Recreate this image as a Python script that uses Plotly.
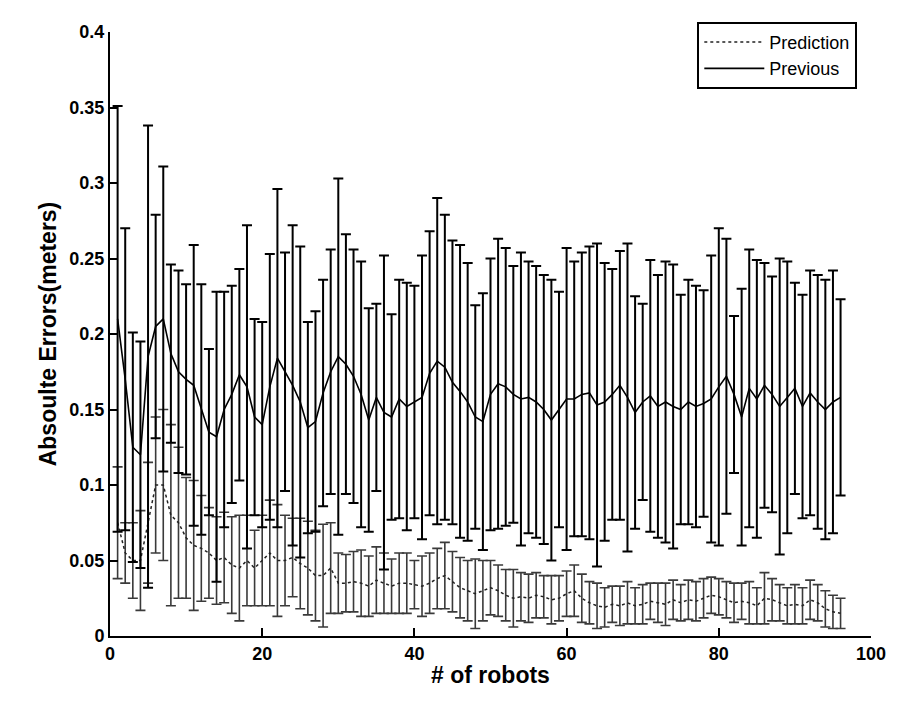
import plotly.graph_objects as go

robots = list(range(1, 97))

prev_mean = [0.21, 0.17, 0.125, 0.12, 0.185, 0.205, 0.21, 0.187, 0.175, 0.17,
             0.166, 0.15, 0.135, 0.132, 0.15, 0.16, 0.173, 0.165, 0.145, 0.14,
             0.165, 0.184, 0.175, 0.166, 0.155, 0.138, 0.142, 0.161, 0.175, 0.185,
             0.18, 0.172, 0.16, 0.143, 0.158, 0.148, 0.145, 0.157, 0.152, 0.155,
             0.158, 0.174, 0.182, 0.178, 0.168, 0.162, 0.155, 0.145, 0.142, 0.16,
             0.167, 0.165, 0.16, 0.157, 0.158, 0.155, 0.15, 0.143, 0.15, 0.157,
             0.157, 0.16, 0.161, 0.153, 0.155, 0.16, 0.166, 0.158, 0.148, 0.155,
             0.159, 0.152, 0.155, 0.152, 0.15, 0.155, 0.152, 0.154, 0.157, 0.165,
             0.172, 0.16, 0.145, 0.164, 0.157, 0.166, 0.16, 0.152, 0.158, 0.164,
             0.152, 0.161, 0.155, 0.15, 0.155, 0.158]

prev_top = [0.351, 0.27, 0.201, 0.195, 0.338, 0.279, 0.311, 0.246, 0.242, 0.233,
            0.259, 0.233, 0.19, 0.228, 0.228, 0.232, 0.243, 0.272, 0.21, 0.208,
            0.253, 0.296, 0.254, 0.272, 0.258, 0.208, 0.215, 0.236, 0.256, 0.303,
            0.266, 0.256, 0.248, 0.217, 0.22, 0.252, 0.213, 0.236, 0.234, 0.232,
            0.252, 0.268, 0.29, 0.279, 0.262, 0.259, 0.247, 0.219, 0.227, 0.25,
            0.263, 0.257, 0.245, 0.254, 0.248, 0.245, 0.239, 0.236, 0.228, 0.257,
            0.248, 0.254, 0.258, 0.26, 0.247, 0.243, 0.255, 0.26, 0.225, 0.22,
            0.249, 0.239, 0.248, 0.246, 0.226, 0.236, 0.232, 0.229, 0.252, 0.27,
            0.263, 0.212, 0.23, 0.256, 0.249, 0.247, 0.238, 0.25, 0.248, 0.234,
            0.226, 0.242, 0.239, 0.236, 0.242, 0.223]

pred_mean = [0.075, 0.055, 0.05, 0.05, 0.075, 0.1, 0.1, 0.08, 0.075, 0.065,
             0.06, 0.058, 0.055, 0.05, 0.052, 0.047, 0.045, 0.05, 0.045, 0.05,
             0.055, 0.05, 0.05, 0.052, 0.048, 0.045, 0.04, 0.04, 0.045, 0.035,
             0.035, 0.036, 0.035, 0.033, 0.037, 0.035, 0.033, 0.035, 0.035, 0.034,
             0.033, 0.035, 0.038, 0.04, 0.036, 0.032, 0.03, 0.028, 0.03, 0.032,
             0.03, 0.027, 0.025, 0.026, 0.025, 0.027, 0.026, 0.024, 0.025, 0.028,
             0.03, 0.025, 0.022, 0.02, 0.019, 0.021, 0.02, 0.022, 0.02, 0.021,
             0.023, 0.022, 0.021, 0.024, 0.022, 0.024, 0.023, 0.025, 0.027, 0.026,
             0.024, 0.022, 0.023, 0.022, 0.02, 0.025, 0.024, 0.022, 0.02, 0.021,
             0.02, 0.024, 0.022, 0.018, 0.016, 0.015]

pred_err = [0.037, 0.02, 0.025, 0.033, 0.04, 0.045, 0.05, 0.06, 0.05, 0.04,
            0.043, 0.035, 0.03, 0.029, 0.03, 0.032, 0.035, 0.03, 0.025, 0.03,
            0.035, 0.037, 0.03, 0.026, 0.03, 0.031, 0.03, 0.034, 0.03, 0.02,
            0.019, 0.02, 0.022, 0.02, 0.022, 0.02, 0.018, 0.02, 0.02, 0.016,
            0.02, 0.02, 0.02, 0.022, 0.02, 0.02, 0.02, 0.023, 0.02, 0.018,
            0.017, 0.017, 0.019, 0.016, 0.016, 0.015, 0.014, 0.016, 0.015, 0.015,
            0.017, 0.016, 0.014, 0.015, 0.013, 0.012, 0.013, 0.014, 0.012, 0.013,
            0.012, 0.013, 0.014, 0.013, 0.012, 0.013, 0.013, 0.013, 0.012, 0.012,
            0.012, 0.013, 0.012, 0.014, 0.012, 0.017, 0.014, 0.012, 0.012, 0.013,
            0.012, 0.013, 0.012, 0.012, 0.011, 0.01]

x_ticks = [0, 20, 40, 60, 80, 100]
y_ticks = [0, 0.05, 0.1, 0.15, 0.2, 0.25, 0.3, 0.35, 0.4]
y_tick_labels = ["0", "0.05", "0.1", "0.15", "0.2", "0.25", "0.3", "0.35", "0.4"]

prev_err = [t - m for t, m in zip(prev_top, prev_mean)]

FONT = "Liberation Sans"

fig = go.Figure()
fig.add_trace(go.Scatter(
    x=robots, y=pred_mean, mode="lines", name="Prediction",
    line=dict(color="#222222", width=1.5, dash="dot"),
    error_y=dict(type="data", array=pred_err, visible=True,
                 color="#3a3a3a", thickness=1.6, width=5),
))
fig.add_trace(go.Scatter(
    x=robots, y=prev_mean, mode="lines", name="Previous",
    line=dict(color="black", width=1.6),
    error_y=dict(type="data", array=prev_err, visible=True,
                 color="black", thickness=2, width=5),
))

fig.update_layout(
    width=898, height=708,
    margin=dict(l=110, r=21, t=32, b=72),
    paper_bgcolor="white", plot_bgcolor="white",
    font=dict(family=FONT, color="black", size=16),
    showlegend=True,
    legend=dict(x=0.982, y=1.017, xanchor="right", yanchor="top",
                bordercolor="black", borderwidth=2, bgcolor="white",
                font=dict(family=FONT, size=18, color="black"),
                tracegroupgap=0, itemwidth=60,
                entrywidth=190, entrywidthmode="pixels"),
    xaxis=dict(range=[0, 100], tickvals=x_ticks, ticks="inside", ticklen=8,
               tickwidth=2, tickcolor="black", showline=True, linecolor="black",
               linewidth=2, showgrid=False, zeroline=False,
               tickfont=dict(family=FONT, size=18, color="black", weight="bold"),
               title=dict(text="# of robots", standoff=4,
                          font=dict(family=FONT, size=23, color="black", weight="bold"))),
    yaxis=dict(range=[0, 0.4], tickvals=y_ticks, ticktext=y_tick_labels,
               ticks="inside", ticklen=8, tickwidth=2, tickcolor="black",
               showline=True, linecolor="black", linewidth=2, showgrid=False,
               zeroline=False,
               tickfont=dict(family=FONT, size=18, color="black", weight="bold"),
               title=dict(text="Absoulte Errors(meters)", standoff=6,
                          font=dict(family=FONT, size=23, color="black", weight="bold"))),
)

fig.write_html("out.html")
